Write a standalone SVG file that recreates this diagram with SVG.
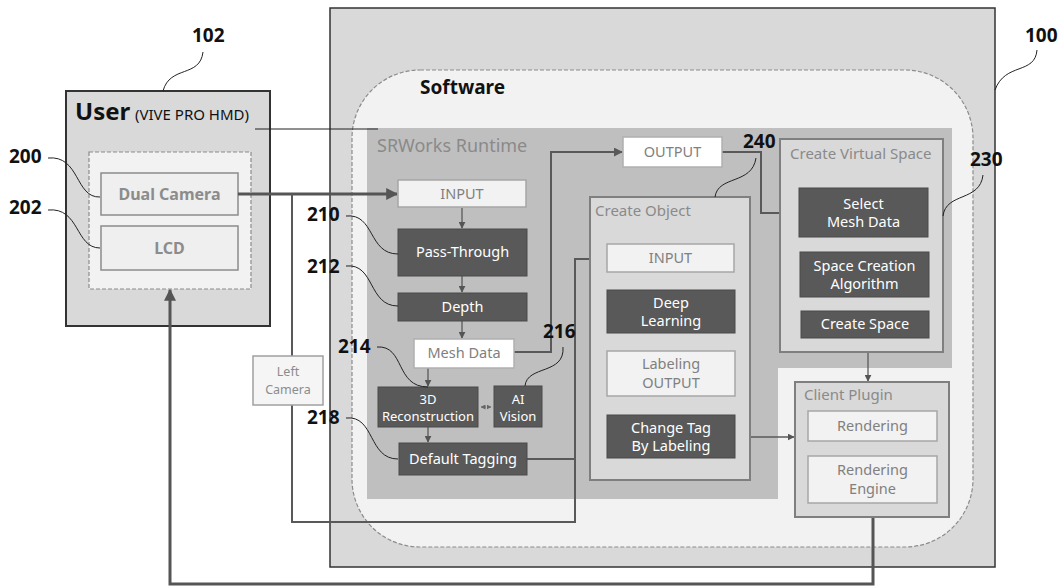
<svg xmlns="http://www.w3.org/2000/svg" width="1063" height="587" viewBox="0 0 1063 587">
<defs>
<marker id="ah" viewBox="0 0 10 10" refX="9" refY="5" markerWidth="7" markerHeight="7" orient="auto-start-reverse" markerUnits="userSpaceOnUse"><path d="M0,0 L10,5 L0,10 z" fill="#555"/></marker>
<marker id="aht" viewBox="0 0 10 10" refX="9" refY="5" markerWidth="5" markerHeight="5" orient="auto-start-reverse" markerUnits="userSpaceOnUse"><path d="M0,0 L10,5 L0,10 z" fill="#666"/></marker>
<marker id="ahs" viewBox="0 0 10 10" refX="9" refY="5" markerWidth="9" markerHeight="9" orient="auto-start-reverse" markerUnits="userSpaceOnUse"><path d="M0,0 L10,5 L0,10 z" fill="#595959"/></marker>
<marker id="ahb" viewBox="0 0 10 10" refX="9" refY="5" markerWidth="12" markerHeight="12" orient="auto-start-reverse" markerUnits="userSpaceOnUse"><path d="M0,0 L10,5 L0,10 z" fill="#555"/></marker>
<style>
text{font-family:"Noto Sans","Open Sans","DejaVu Sans",sans-serif;}
.num{font-size:19px;font-weight:bold;fill:#111;}
.dark{fill:#595959;stroke:#4a4a4a;stroke-width:1;}
.lite{fill:#f2f2f2;stroke:#a6a6a6;stroke-width:1.5;}
.white{fill:#ffffff;stroke:#b0b0b0;stroke-width:1.5;}
.sub{fill:#d9d9d9;stroke:#7f7f7f;stroke-width:2;}
.wt{fill:#ffffff;font-size:14.5px;text-anchor:middle;}
.gt{fill:#808080;font-size:14.5px;text-anchor:middle;}
.ttl{fill:#8a8a8a;font-size:15px;}
.lead{fill:none;stroke:#222;stroke-width:1;}
.c{fill:none;stroke:#595959;stroke-width:2;}
.cs{fill:none;stroke:#595959;stroke-width:1.3;}
</style>
</defs>

<g id="n100">
<rect x="330" y="8" width="665" height="559" fill="#d9d9d9" stroke="#333" stroke-width="1.5"/>
</g>
<g id="software">
<rect x="352" y="70" width="621" height="477" rx="68" fill="#f2f2f2" stroke="#8c8c8c" stroke-width="1.2" stroke-dasharray="4,2"/>
<text x="420" y="94" font-size="19" font-weight="bold" fill="#111">Software</text>
</g>
<g id="srworks">
<path d="M367,128 H952 V368 H778 V499 H367 Z" fill="#bfbfbf"/>
<text x="377" y="152" font-size="18" fill="#8a8a8a">SRWorks Runtime</text>
</g>

<g id="n102">
<rect x="66" y="91" width="204" height="235" fill="#d9d9d9" stroke="#333" stroke-width="2"/>
<text x="75" y="120" font-size="24" font-weight="bold" fill="#111">User</text>
<text x="135" y="120" font-size="15" fill="#111">(VIVE PRO HMD)</text>
<rect x="89" y="152" width="162" height="137" fill="#f2f2f2" stroke="#8c8c8c" stroke-width="1.2" stroke-dasharray="4,2"/>
</g>
<g id="n200">
<rect x="101" y="173" width="137" height="42" fill="#efefef" stroke="#8c8c8c" stroke-width="1.5"/>
<text x="169.5" y="200" font-size="16" font-weight="bold" fill="#8c8c8c" text-anchor="middle">Dual Camera</text>
</g>
<g id="n202">
<rect x="101" y="226" width="137" height="44" fill="#efefef" stroke="#8c8c8c" stroke-width="1.5"/>
<text x="169.5" y="254" font-size="16" font-weight="bold" fill="#8c8c8c" text-anchor="middle">LCD</text>
</g>

<g id="connectors">
<line x1="255" y1="129" x2="378" y2="129" stroke="#222" stroke-width="1.2"/>
<path d="M238,194 H397" fill="none" stroke="#555" stroke-width="3" marker-end="url(#ahb)"/>
<path d="M292,194 V522 H575 V259 H605" class="c" marker-end="url(#ahs)"/>
<path d="M527,459 H575" class="c"/>
<path d="M514,352 H551 V152 H622" class="c" marker-end="url(#ahs)"/>
<path d="M722,152 H761 V213 H798" class="c" marker-end="url(#ahs)"/>
<path d="M735,437 H794" class="cs" marker-end="url(#ah)"/>
<path d="M868,338 V381" class="cs" marker-end="url(#ah)"/>
<path d="M873,517 V584 H170 V290" fill="none" stroke="#555" stroke-width="3" marker-end="url(#ahb)"/>
<path d="M462,208 V228" class="cs" marker-end="url(#ah)"/>
<path d="M462,276 V292" class="cs" marker-end="url(#ah)"/>
<path d="M462,321 V338" class="cs" marker-end="url(#ah)"/>
<path d="M428,368 V386" class="cs" marker-end="url(#ah)"/>
<path d="M428,427 V442" class="cs" marker-end="url(#ah)"/>
<path d="M481,407 H491" fill="none" stroke="#777" stroke-width="1" stroke-dasharray="2,1" marker-start="url(#aht)" marker-end="url(#aht)"/>
<path d="M670,272 V289" class="cs" marker-end="url(#ah)"/>
<path d="M670,333 V350" class="cs" marker-end="url(#ah)"/>
<path d="M670,396 V414" class="cs" marker-end="url(#ah)"/>
<path d="M864,237 V251" class="cs" marker-end="url(#ah)"/>
<path d="M865,297 V310" class="cs" marker-end="url(#ah)"/>
<path d="M873,441 V455" class="cs" marker-end="url(#ah)"/>
</g>

<g id="leftcam">
<rect x="253" y="356" width="70" height="49" fill="#f5f5f5" stroke="#a0a0a0" stroke-width="1.5"/>
<text x="288" y="376" font-size="12.5" fill="#8c8c8c" text-anchor="middle">Left</text>
<text x="288" y="394" font-size="12.5" fill="#8c8c8c" text-anchor="middle">Camera</text>
</g>

<g id="input1"><rect x="398" y="180" width="128" height="27" class="lite"/><text x="462" y="199" class="gt">INPUT</text></g>
<g id="n210"><rect x="398" y="229" width="129" height="47" class="dark"/><text x="462.5" y="257" class="wt">Pass-Through</text></g>
<g id="n212"><rect x="398" y="293" width="129" height="28" class="dark"/><text x="462.5" y="312" class="wt">Depth</text></g>
<g id="mesh"><rect x="414" y="339" width="100" height="29" class="white"/><text x="464" y="358" class="gt">Mesh Data</text></g>
<g id="n214"><rect x="378" y="387" width="100" height="40" class="dark"/><text x="428" y="404" class="wt" style="font-size:13px">3D</text><text x="428" y="421" class="wt" style="font-size:13px">Reconstruction</text></g>
<g id="n216"><rect x="494" y="386" width="48" height="41" class="dark"/><text x="518" y="404" class="wt" style="font-size:13px">AI</text><text x="518" y="421" class="wt" style="font-size:13px">Vision</text></g>
<g id="n218"><rect x="399" y="443" width="128" height="32" class="dark"/><text x="463" y="464" class="wt">Default Tagging</text></g>
<g id="output1"><rect x="623" y="137" width="99" height="30" class="white"/><text x="672.5" y="157" class="gt">OUTPUT</text></g>

<g id="n240">
<rect x="590" y="197" width="160" height="283" class="sub"/>
<text x="595" y="216" class="ttl">Create Object</text>
</g>
<g id="input2"><rect x="607" y="244" width="127" height="28" class="lite"/><text x="670.5" y="263" class="gt">INPUT</text></g>
<g id="deep"><rect x="607" y="290" width="128" height="43" class="dark"/><text x="671" y="308" class="wt">Deep</text><text x="671" y="326" class="wt">Learning</text></g>
<g id="labout"><rect x="607" y="351" width="128" height="45" class="lite"/><text x="671" y="369" class="gt">Labeling</text><text x="671" y="388" class="gt">OUTPUT</text></g>
<g id="changetag"><rect x="607" y="415" width="128" height="43" class="dark"/><text x="671" y="433" class="wt">Change Tag</text><text x="671" y="451" class="wt">By Labeling</text></g>

<g id="n230">
<rect x="780" y="139" width="163" height="213" class="sub"/>
<text x="790" y="159" class="ttl">Create Virtual Space</text>
</g>
<g id="selmesh"><rect x="799" y="188" width="129" height="49" class="dark"/><text x="863.5" y="209" class="wt">Select</text><text x="863.5" y="227" class="wt">Mesh Data</text></g>
<g id="spacealg"><rect x="800" y="252" width="129" height="45" class="dark"/><text x="864.5" y="271" class="wt">Space Creation</text><text x="864.5" y="289" class="wt">Algorithm</text></g>
<g id="createspace"><rect x="801" y="311" width="128" height="27" class="dark"/><text x="865" y="329" class="wt">Create Space</text></g>

<g id="client">
<rect x="795" y="382" width="154" height="135" class="sub"/>
<text x="804" y="400" class="ttl">Client Plugin</text>
</g>
<g id="render"><rect x="808" y="411" width="129" height="30" class="lite"/><text x="872.5" y="431" class="gt">Rendering</text></g>
<g id="rengine"><rect x="808" y="456" width="129" height="47" class="lite"/><text x="872.5" y="475" class="gt">Rendering</text><text x="872.5" y="494" class="gt">Engine</text></g>

<g id="labels">
<text x="192" y="42" class="num">102</text>
<path d="M163,91 C170,65 200,78 203,52" class="lead"/>
<text x="1025" y="42" class="num">100</text>
<path d="M995,90 C1005,62 1035,75 1037,50" class="lead"/>
<text x="9" y="163" class="num">200</text>
<path d="M48,158 C80,155 75,198 100,197" class="lead"/>
<text x="9" y="214" class="num">202</text>
<path d="M48,210 C80,207 75,248 100,248" class="lead"/>
<text x="307" y="221" class="num">210</text>
<path d="M346,216 C375,213 368,254 398,254" class="lead"/>
<text x="307" y="273" class="num">212</text>
<path d="M346,266 C375,263 368,306 398,306" class="lead"/>
<text x="338" y="353" class="num">214</text>
<path d="M377,347 C405,345 395,387 428,387" class="lead"/>
<text x="543" y="338" class="num">216</text>
<path d="M563,347 C565,375 527,365 525,386" class="lead"/>
<text x="307" y="424" class="num">218</text>
<path d="M346,418 C375,415 368,459 398,459" class="lead"/>
<text x="743" y="148" class="num">240</text>
<path d="M756,158 C752,185 718,175 715,197" class="lead"/>
<text x="970" y="166" class="num">230</text>
<path d="M983,175 C980,202 946,192 943,216" class="lead"/>
</g>
</svg>
